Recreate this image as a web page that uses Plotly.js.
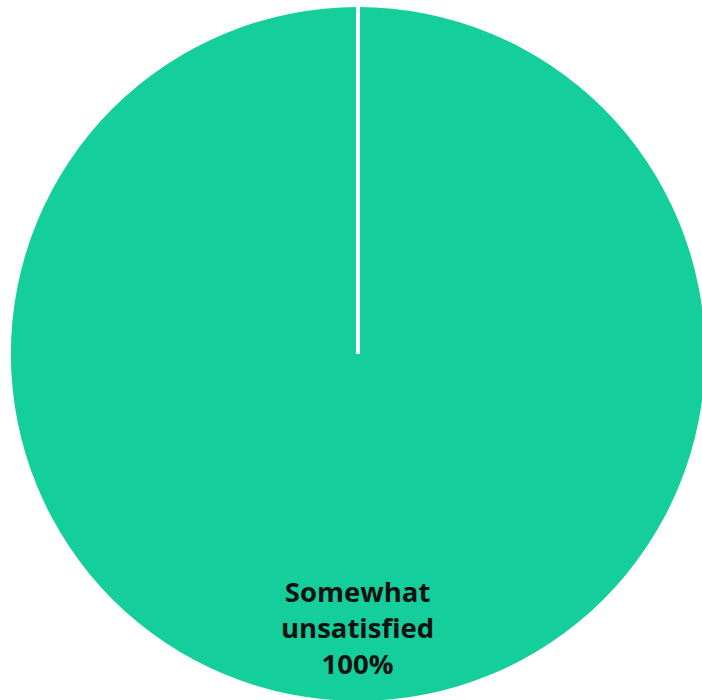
<!DOCTYPE html>
<html>
<head>
<meta charset="utf-8">
<script src="https://cdn.plot.ly/plotly-3.0.1.min.js"></script>
<style>
html,body{margin:0;padding:0;overflow:hidden;background:#fff;}
#chart{width:720px;height:720px;}
</style>
</head>
<body>
<div id="chart"></div>
<script>
const labels = ["Somewhat unsatisfied"];
const values = [100];
const colors = ["#14CE9C"];

const W = 720, H = 720;
const cx = 358, cyTop = 354, r = 347;
const dom = {
  x: [(cx - r) / W, (cx + r) / W],
  y: [(H - cyTop - r) / H, (H - cyTop + r) / H]
};
const total = values.reduce((a, b) => a + b, 0);
const centerX = (dom.x[0] + dom.x[1]) / 2;
const centerY = (dom.y[0] + dom.y[1]) / 2;

const trace = {
  type: "pie",
  labels: labels,
  values: values,
  sort: false,
  direction: "clockwise",
  rotation: 0,
  marker: {colors: colors, line: {color: "#ffffff", width: 0}},
  textinfo: "none",
  hoverinfo: "label+percent",
  domain: dom,
  showlegend: false
};

const annText = labels[0].replace(" ", "<br>") + "<br>" + Math.round(values[0] / total * 100) + "%";

const layout = {
  width: W, height: H,
  margin: {l: 0, r: 0, t: 0, b: 0},
  paper_bgcolor: "#ffffff",
  showlegend: false,
  shapes: [{
    type: "line", xref: "paper", yref: "paper",
    x0: centerX, y0: centerY, x1: centerX, y1: dom.y[1],
    line: {color: "#ffffff", width: 4}
  }],
  annotations: [{
    xref: "paper", yref: "paper",
    x: centerX, y: (H - 627) / H,
    xanchor: "center", yanchor: "middle",
    showarrow: false,
    text: "<b>" + annText + "</b>",
    align: "center",
    font: {family: "'Open Sans', sans-serif", size: 27.5, color: "#111111"}
  }]
};

Plotly.newPlot("chart", [trace], layout, {displayModeBar: false, staticPlot: true});
</script>
</body>
</html>
